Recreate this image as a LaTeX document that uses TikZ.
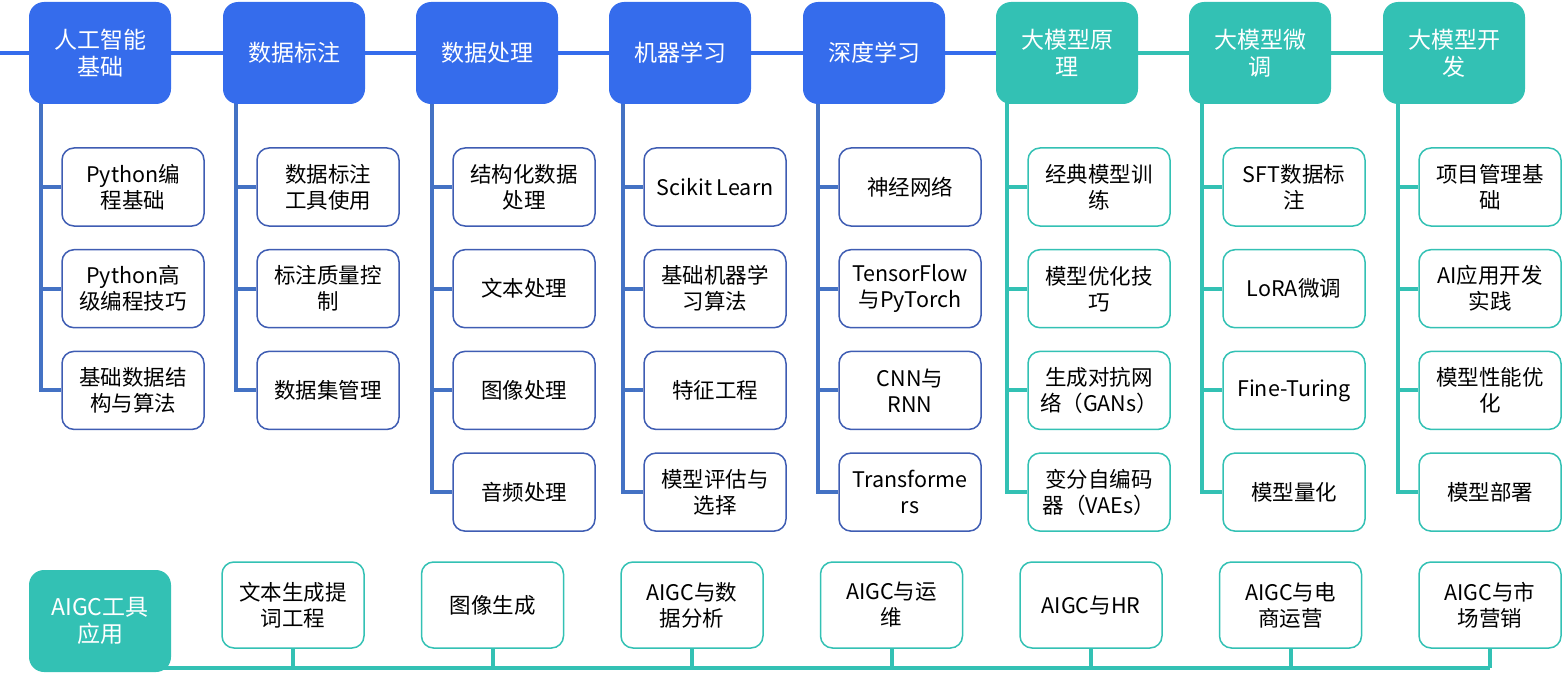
\documentclass[tikz,border=0pt]{standalone}
\usepackage{fontspec}
\setmainfont{Noto Sans CJK SC}
\usetikzlibrary{positioning,backgrounds}
\definecolor{hdblue}{HTML}{356CEC}
\definecolor{lnblue}{HTML}{4472C4}
\definecolor{bxblue}{HTML}{3F5DB3}
\definecolor{aiteal}{HTML}{33C1B4}
\tikzset{
  head/.style={fill=#1, text=white, rounded corners=15pt, minimum width=142pt,
    minimum height=102pt, align=center, inner sep=0pt, font=\fontsize{23}{27}\selectfont},
  kid/.style={draw=#1, fill=white, line width=1.5pt, rounded corners=12pt, minimum width=142pt,
    minimum height=78pt, align=center, inner sep=0pt, font=\fontsize{21.5}{26}\selectfont},
  link/.style={draw=#1, line width=4pt},
}
\begin{document}
\begin{tikzpicture}[x=1pt,y=-1pt]
\useasboundingbox (0,0) rectangle (1563,674);
\coordinate (lstart) at (0,53);
% learning path
\foreach \i/\hx/\cx/\hd/\hc in {0/100/133/{人工智能\\基础}/hdblue, 1/294/328/{数据标注}/hdblue,
    2/487/524/{数据处理}/hdblue, 3/680/715/{机器学习}/hdblue, 4/874/910/{深度学习}/hdblue,
    5/1067/1099/{大模型原\\理}/aiteal, 6/1260/1294/{大模型微\\调}/aiteal, 7/1454/1490/{大模型开\\发}/aiteal}{
  \node[head=\hc] (h\i) at (\hx,53) {\hd};
  \coordinate (c\i) at (\cx,187);
  \coordinate (t\i) at (\cx-92,60);
}
\foreach \i/\j/\txt in {0/1/{Python编\\程基础}, 0/2/{Python高\\级编程技巧}, 0/3/{基础数据结\\构与算法},
    1/1/{数据标注\\工具使用}, 1/2/{标注质量控\\制}, 1/3/{数据集管理},
    2/1/{结构化数据\\处理}, 2/2/{文本处理}, 2/3/{图像处理}, 2/4/{音频处理},
    3/1/{Scikit Learn}, 3/2/{基础机器学\\习算法}, 3/3/{特征工程}, 3/4/{模型评估与\\选择},
    4/1/{神经网络}, 4/2/{TensorFlow\\与PyTorch}, 4/3/{CNN与\\RNN}, 4/4/{Transforme\\rs}}{
  \node[kid=bxblue] (s\i-\j) at ([yshift={-101.7*(\j-1)}]c\i) {\txt};
  \begin{scope}[on background layer]
    \draw[link=lnblue] (t\i) -- (t\i |- s\i-\j.west) -- (s\i-\j.west);
  \end{scope}
}
\foreach \i/\j/\txt in {5/1/{经典模型训\\练}, 5/2/{模型优化技\\巧}, 5/3/{生成对抗网\\络（GANs）}, 5/4/{变分自编码\\器（VAEs）},
    6/1/{SFT数据标\\注}, 6/2/{LoRA微调}, 6/3/{Fine-Turing}, 6/4/{模型量化},
    7/1/{项目管理基\\础}, 7/2/{AI应用开发\\实践}, 7/3/{模型性能优\\化}, 7/4/{模型部署}}{
  \node[kid=aiteal] (s\i-\j) at ([yshift={-101.7*(\j-1)}]c\i) {\txt};
  \begin{scope}[on background layer]
    \draw[link=aiteal] (t\i) -- (t\i |- s\i-\j.west) -- (s\i-\j.west);
  \end{scope}
}
\begin{scope}[on background layer]
  \draw[link=hdblue] (lstart) -- (h0.west);
  \foreach \i/\nx/\lk in {0/1/hdblue,1/2/hdblue,2/3/hdblue,3/4/hdblue,4/5/hdblue,5/6/aiteal,6/7/aiteal}
    \draw[link=\lk] (h\i.east) -- (h\nx.west);
\end{scope}
% AIGC tools
\node[head=aiteal] (aigc) at (100,621) {AIGC工具\\应用};
\coordinate (bl) at (0,668);
\foreach \txt [count=\j] in {{文本生成提\\词工程},{图像生成},{AIGC与数\\据分析},{AIGC与运\\维},{AIGC与HR},{AIGC与电\\商运营},{AIGC与市\\场营销}}{
  \node[kid=aiteal, minimum height=86pt] (b\j) at (293+199.5*\j-199.5,605) {\txt};
  \begin{scope}[on background layer]
    \draw[link=aiteal] (b\j.south) -- (b\j.south |- bl);
  \end{scope}
}
\begin{scope}[on background layer]
  \draw[link=aiteal] (aigc.center |- bl) -- (b7.south |- bl);
\end{scope}
\end{tikzpicture}
\end{document}
